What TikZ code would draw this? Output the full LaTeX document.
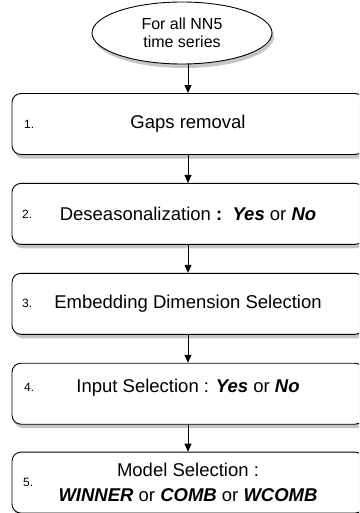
\documentclass[tikz,border=0pt]{standalone}
\usepackage{fontspec}
\setmainfont{Liberation Sans}
\usetikzlibrary{positioning}
\usetikzlibrary{arrows.meta}
\usetikzlibrary{shapes,shadows}

\tikzset{
  stepbox/.style={draw, line width=0.9pt, rounded corners=9pt, fill=white,
    minimum width=352pt, minimum height=61pt, align=center,
    font=\fontsize{18.5}{25}\selectfont,
    drop shadow={shadow xshift=2pt, shadow yshift=-4pt, opacity=0.45}},
  startnode/.style={ellipse, draw, line width=0.9pt, fill=white,
    minimum width=180pt, minimum height=62pt, inner sep=0pt, align=center,
    font=\fontsize{16}{18.5}\selectfont,
    drop shadow={shadow xshift=2pt, shadow yshift=-4pt, opacity=0.45}},
  numlabel/.style={anchor=west, font=\fontsize{12}{14}\selectfont},
  flow/.style={line width=0.9pt, -{Triangle[length=8pt, width=7pt]}}
}

\begin{document}
\begin{tikzpicture}[x=1pt, y=-1pt]
  \useasboundingbox (0,0) rectangle (359,513);
  \clip (0,0) rectangle (359,513);

  % start of the flow
  \node[startnode] (start) at (182,33) {For all NN5\\time series};

  % the five steps
  \node[stepbox] (gaps) at (188,124) {Gaps removal};
  \node[stepbox, below=28pt of gaps] (deseason)
    {Deseasonalization \textbf{:}\ \ \textbf{\textit{Yes}} or \textbf{\textit{No}}};
  \node[stepbox, below=28pt of deseason] (embed) {Embedding Dimension Selection};
  \node[stepbox, below=28pt of embed, text depth=15pt] (inputsel)
    {Input Selection : \textbf{\textit{Yes}} or \textbf{\textit{No}}};
  \node[stepbox, below=27pt of inputsel] (modelsel)
    {Model Selection :\\\textbf{\textit{WINNER}} or \textbf{\textit{COMB}} or \textbf{\textit{WCOMB}}};

  % step numbers
  \node[numlabel] (n1) at ([xshift=9pt]gaps.west) {1.};
  \node[numlabel] (n2) at ([xshift=7pt]deseason.west) {2.};
  \node[numlabel] (n3) at ([xshift=7pt]embed.west) {3.};
  \node[numlabel] (n4) at ([xshift=9pt,yshift=6pt]inputsel.west) {4.};
  \node[numlabel] (n5) at ([xshift=8pt]modelsel.west) {5.};

  % arrows
  \draw[flow] (gaps.north |- start.south) -- (gaps.north);
  \draw[flow] (gaps) -- (deseason);
  \draw[flow] (deseason) -- (embed);
  \draw[flow] (embed) -- (inputsel);
  \draw[flow] (inputsel) -- (modelsel);
\end{tikzpicture}
\end{document}
